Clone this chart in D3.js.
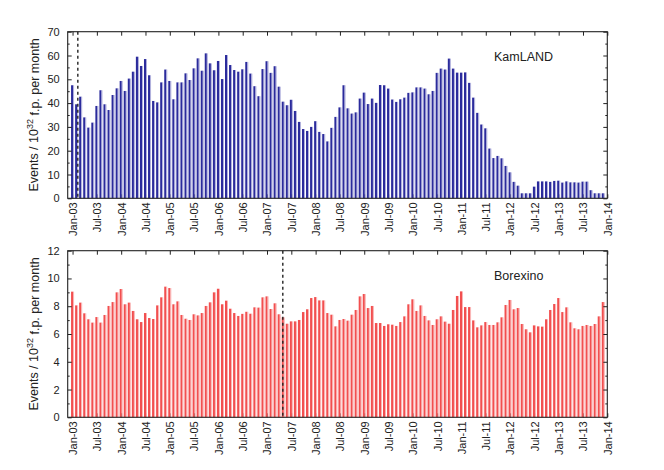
<!DOCTYPE html>
<html>
<head>
<meta charset="utf-8">
<script src="https://cdn.jsdelivr.net/npm/d3@7"></script>
<style>
  body { margin: 0; background: #fff; }
  svg { display: block; font-family: 'Liberation Sans', Arial, sans-serif; }
</style>
</head>
<body>
<svg id="chart" width="664" height="470"></svg>
<script>
// months counted from Jan-03 (index 0) to Dec-13 (index 131)
const tickLabels = ['Jan-03', 'Jul-03', 'Jan-04', 'Jul-04', 'Jan-05', 'Jul-05', 'Jan-06', 'Jul-06',
  'Jan-07', 'Jul-07', 'Jan-08', 'Jul-08', 'Jan-09', 'Jul-09', 'Jan-10', 'Jul-10', 'Jan-11',
  'Jul-11', 'Jan-12', 'Jul-12', 'Jan-13', 'Jul-13', 'Jan-14'];

const kamland = [
  47.5, 39.5, 42.7, 34.0, 29.7, 31.8, 38.8, 45.4, 39.5, 37.1, 43.4, 46.2,
  49.3, 45.1, 50.3, 53.2, 59.5, 55.6, 58.5, 51.7, 40.9, 40.3, 48.7, 54.1,
  49.3, 41.6, 48.7, 48.7, 52.5, 49.7, 54.6, 58.8, 53.6, 60.9, 56.7, 53.8,
  57.7, 50.1, 60.2, 56.0, 53.9, 53.2, 54.2, 57.3, 52.4, 47.1, 42.9, 54.3,
  57.6, 52.7, 55.5, 46.9, 40.6, 39.1, 41.4, 36.7, 32.1, 29.1, 28.3, 30.0,
  32.4, 27.9, 27.0, 23.9, 29.6, 34.2, 38.2, 47.5, 37.8, 35.6, 36.1, 41.9,
  44.4, 39.6, 41.9, 40.1, 47.6, 47.5, 46.1, 41.5, 40.5, 41.6, 42.3, 44.3,
  44.5, 46.6, 46.6, 46.1, 43.7, 45.1, 52.7, 54.5, 54.1, 58.7, 54.5, 52.8,
  52.8, 52.9, 48.5, 42.3, 35.9, 31.0, 29.4, 20.9, 16.9, 17.8, 16.8, 13.6,
  10.9, 6.9, 5.3, 2.1, 2.1, 2.1, 4.9, 7.1, 7.1, 7.1, 6.9, 7.3,
  7.4, 6.6, 7.1, 6.7, 6.7, 6.6, 7.0, 7.0, 3.4, 2.1, 2.1, 2.1
];

const borexino = [
  9.05, 8.06, 8.26, 7.49, 7.06, 6.82, 7.22, 6.82, 7.37, 8.02, 8.30, 9.00,
  9.24, 8.14, 8.26, 7.66, 7.06, 6.86, 7.51, 7.15, 7.08, 8.06, 8.64, 9.41,
  9.31, 8.14, 8.35, 7.37, 7.10, 7.01, 7.42, 7.34, 7.51, 8.02, 8.28, 9.00,
  9.26, 8.14, 8.40, 7.82, 7.51, 7.30, 7.45, 7.60, 7.46, 7.92, 7.90, 8.64,
  8.71, 7.80, 8.21, 7.42, 7.20, 6.74, 6.91, 6.91, 7.01, 7.58, 7.78, 8.59,
  8.66, 8.42, 8.42, 7.51, 7.39, 6.55, 7.01, 7.08, 6.96, 7.39, 7.73, 8.71,
  8.88, 7.87, 8.02, 6.79, 6.79, 6.58, 6.70, 6.67, 6.58, 6.86, 7.27, 8.14,
  8.50, 7.66, 8.06, 7.30, 6.98, 6.65, 7.06, 7.27, 6.89, 6.74, 7.73, 8.74,
  9.07, 7.94, 7.94, 6.98, 6.48, 6.62, 6.86, 6.65, 6.65, 6.84, 7.20, 8.09,
  8.45, 7.78, 7.87, 6.72, 6.34, 6.12, 6.62, 6.55, 6.53, 7.06, 7.73, 8.16,
  8.59, 7.58, 7.92, 6.84, 6.41, 6.34, 6.58, 6.65, 6.58, 6.72, 7.27, 8.30
];

const kamlandTicks = [0, 10, 20, 30, 40, 50, 60, 70];
const borexinoTicks = [0, 2, 4, 6, 8, 10, 12];

// start of data taking (months since Jan-03)
const kamlandStart = 1.3;
const borexinoStart = 51.9;

const svg = d3.select('#chart');
const left = 67.7, right = 607.3;

const x = d3.scaleLinear().domain([-1.2, 132]).range([left, right]);
const tickMonths = tickLabels.map((d, i) => i * 6);

function drawPanel(opts) {
  const { top, bottom, values, ticks, minorStep, start, name, dark, light } = opts;
  const ymax = ticks[ticks.length - 1];
  const y = d3.scaleLinear().domain([0, ymax]).range([bottom, top]);
  const minors = d3.range(0, ymax + 0.001, minorStep).filter((v) => !ticks.includes(v));
  const g = svg.append('g');

  // bottom ticks + labels (under the bars)
  g.append('g')
    .attr('transform', `translate(0,${bottom})`)
    .call(d3.axisBottom(x).tickValues(tickMonths).tickSize(-4).tickPadding(4)
      .tickFormat((d, i) => tickLabels[i]))
    .call((g) => g.select('.domain').remove())
    .call((g) => g.selectAll('.tick line').attr('stroke', '#222'))
    .call((g) => g.selectAll('.tick text')
      .attr('transform', 'rotate(-90)')
      .attr('x', -4).attr('y', 0).attr('dy', '0.35em')
      .attr('text-anchor', 'end')
      .attr('fill', '#222')
      .style('font-size', '11px'));

  const bars = g.append('g').selectAll('g').data(values).join('g');
  bars.append('rect')
    .attr('x', (d, i) => x(i) - 1.5)
    .attr('y', (d) => y(d))
    .attr('width', 2.1)
    .attr('height', (d) => y(0) - y(d))
    .attr('fill', dark);
  bars.append('rect')
    .attr('x', (d, i) => x(i) + 0.6)
    .attr('y', (d) => y(d))
    .attr('width', 0.9)
    .attr('height', (d) => y(0) - y(d))
    .attr('fill', light);

  // left axis, inward ticks
  g.append('g')
    .attr('transform', `translate(${left},0)`)
    .call(d3.axisLeft(y).tickValues(ticks).tickSize(-4).tickPadding(8))
    .call((g) => g.select('.domain').remove())
    .call((g) => g.selectAll('.tick line').attr('stroke', '#222'))
    .call((g) => g.selectAll('.tick text').attr('fill', '#222').style('font-size', '11px'));
  g.append('g')
    .attr('transform', `translate(${left},0)`)
    .call(d3.axisLeft(y).tickValues(minors).tickSize(-2).tickFormat(''))
    .call((g) => g.select('.domain').remove())
    .call((g) => g.selectAll('.tick line').attr('stroke', '#222'));

  // right mirror ticks
  g.append('g')
    .attr('transform', `translate(${right},0)`)
    .call(d3.axisRight(y).tickValues(ticks).tickSize(-4).tickFormat(''))
    .call((g) => g.select('.domain').remove())
    .call((g) => g.selectAll('.tick line').attr('stroke', '#222'));
  g.append('g')
    .attr('transform', `translate(${right},0)`)
    .call(d3.axisRight(y).tickValues(minors).tickSize(-2).tickFormat(''))
    .call((g) => g.select('.domain').remove())
    .call((g) => g.selectAll('.tick line').attr('stroke', '#222'));

  // top mirror ticks
  g.append('g')
    .attr('transform', `translate(0,${top})`)
    .call(d3.axisTop(x).tickValues(tickMonths).tickSize(-4).tickFormat(''))
    .call((g) => g.select('.domain').remove())
    .call((g) => g.selectAll('.tick line').attr('stroke', '#222'));

  // frame
  g.append('rect')
    .attr('x', left).attr('y', top)
    .attr('width', right - left).attr('height', bottom - top)
    .attr('fill', 'none').attr('stroke', '#222').attr('stroke-width', 1.1);

  // start line
  g.append('line')
    .attr('x1', x(start)).attr('x2', x(start))
    .attr('y1', top).attr('y2', bottom)
    .attr('stroke', '#222').attr('stroke-width', 1.4)
    .attr('stroke-dasharray', '3,3');

  g.append('text')
    .attr('x', 494).attr('y', top + 29)
    .attr('fill', '#222')
    .style('font-size', '12.5px')
    .text(name);

  // y title
  const title = g.append('text')
    .attr('transform', `translate(37.5,${(top + bottom) / 2}) rotate(-90)`)
    .attr('text-anchor', 'middle')
    .attr('fill', '#222')
    .style('font-size', '12.5px');
  title.append('tspan').text('Events / 10');
  title.append('tspan').attr('dy', '-0.45em').style('font-size', '9px').text('32');
  title.append('tspan').attr('dy', '0.45em').text(' f.p. per month');
}

drawPanel({
  top: 31.7, bottom: 198.3, values: kamland, ticks: kamlandTicks, minorStep: 5,
  start: kamlandStart, name: 'KamLAND', dark: '#2b2b9c', light: '#a9a9da'
});
drawPanel({
  top: 250.7, bottom: 417.3, values: borexino, ticks: borexinoTicks, minorStep: 1,
  start: borexinoStart, name: 'Borexino', dark: '#f24f4f', light: '#f9adad'
});
</script>
</body>
</html>
